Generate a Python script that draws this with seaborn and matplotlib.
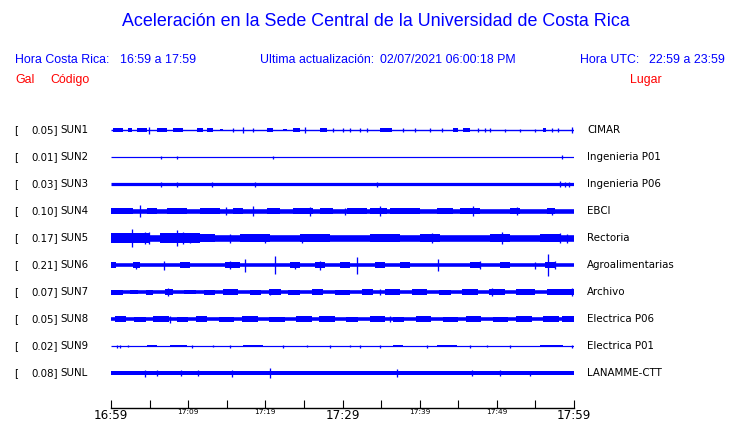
import matplotlib
matplotlib.use("Agg")
import matplotlib.pyplot as plt
import pandas as pd
import seaborn as sns

# ---------------- data ----------------
codes = ["SUN1", "SUN2", "SUN3", "SUN4", "SUN5", "SUN6", "SUN7", "SUN8", "SUN9", "SUNL"]
peak_gal = [0.05, 0.01, 0.03, 0.10, 0.17, 0.21, 0.07, 0.05, 0.02, 0.08]
places = ["CIMAR", "Ingenieria P01", "Ingenieria P06", "EBCI", "Rectoria",
          "Agroalimentarias", "Archivo", "Electrica P06", "Electrica P01", "LANAMME-CTT"]
# background half-amplitude of each trace (trace units)
base_amp = [0.7, 0.6, 1.6, 2.3, 3.3, 1.8, 1.8, 1.8, 0.6, 2.0]

# bursts: (start min, end min, half-amplitude)
sun1_bursts = [(0.26, 1.56, 1.8), (2.2, 2.7, 1.6), (3.4, 4.7, 1.6), (6.0, 7.3, 1.6), (8.0, 9.3, 1.6),
               (11.1, 11.9, 1.8), (12.4, 13.2, 1.6), (14.1, 14.5, 1.4), (20.2, 21.0, 1.6),
               (22.3, 22.8, 1.4), (23.6, 24.5, 1.8), (27.1, 28.0, 1.6), (34.9, 36.4, 1.8),
               (44.3, 45.0, 1.6), (45.6, 46.5, 1.8), (56.0, 56.4, 1.8)]
sun1_spikes = [(4.9, 3.5), (15.8, 2.0), (17.1, 3.0), (18.4, 2.0), (25.1, 3.0), (28.8, 2.0), (30.1, 2.0),
               (31.0, 2.0), (32.3, 2.0), (33.2, 2.0), (37.8, 2.0), (39.4, 2.0), (41.3, 2.0), (42.9, 2.0),
               (47.6, 2.0), (48.5, 2.0), (49.1, 2.0), (51.1, 1.5), (53.0, 1.5), (54.9, 1.5), (57.1, 2.0),
               (57.9, 2.0), (59.7, 3.0)]
sun2_bursts = []
sun2_spikes = [(6.5, 1.5), (8.6, 1.5), (21.0, 1.5), (58.4, 2.0)]
sun3_bursts = []
sun3_spikes = [(6.5, 2.5), (8.6, 2.5), (13.1, 2.5), (18.7, 2.5), (34.5, 2.5), (58.2, 3.0), (58.8, 2.5), (59.4, 2.5)]
sun4_bursts = [(0.0, 2.9, 3.2), (4.7, 6.0, 3.2), (7.3, 9.8, 3.2), (11.5, 14.1, 2.9), (15.8, 17.1, 3.2),
               (20.2, 21.9, 2.9), (23.6, 26.2, 3.2), (27.1, 28.8, 2.9), (30.6, 33.2, 2.9), (33.6, 35.8, 3.2),
               (36.2, 40.0, 2.9), (42.2, 44.3, 2.9), (45.2, 47.8, 2.9), (51.7, 53.0, 3.2), (56.5, 57.5, 2.9)]
sun4_spikes = [(3.8, 6.0), (14.9, 4.0), (18.4, 5.0), (25.8, 4.5), (30.3, 3.5), (34.9, 5.0), (46.9, 5.0),
               (52.6, 4.0), (57.1, 3.5)]
sun5_bursts = [(0.0, 5.1, 4.6), (6.3, 11.5, 4.6), (11.5, 13.5, 4.0), (16.7, 20.6, 4.0), (24.5, 28.4, 4.0),
               (33.6, 37.5, 4.3), (40.0, 42.6, 4.3), (49.1, 51.7, 4.3), (55.6, 58.2, 4.0)]
sun5_spikes = [(2.7, 9.0), (4.4, 6.0), (4.9, 6.0), (8.6, 8.0), (9.3, 6.0), (10.2, 5.0), (15.4, 4.5), (20.0, 4.5),
               (24.8, 4.5), (41.6, 5.0), (50.7, 6.0), (58.2, 5.0), (59.1, 4.5)]
sun6_bursts = [(0.0, 0.6, 2.8), (2.9, 3.8, 2.8), (8.9, 10.2, 2.6), (14.8, 16.7, 3.2), (23.2, 24.5, 2.8),
               (26.4, 27.7, 2.8), (29.7, 31.0, 2.6), (34.2, 35.5, 2.8), (37.5, 38.7, 2.8), (46.5, 47.8, 2.8),
               (50.4, 51.7, 2.8), (56.2, 57.5, 3.2)]
sun6_spikes = [(3.2, 3.5), (6.9, 4.5), (15.4, 4.0), (17.4, 6.5), (21.3, 9.0), (23.8, 3.5), (27.1, 4.5),
               (31.9, 8.5), (42.4, 6.0), (47.8, 4.0), (54.9, 3.5), (56.6, 11.0), (57.5, 4.0)]
sun7_bursts = [(0.0, 1.5, 2.5), (2.5, 3.5, 2.4), (4.5, 5.5, 2.5), (7.0, 8.0, 2.8), (9.5, 11.0, 2.4),
               (12.0, 13.5, 2.5), (14.5, 16.5, 2.6), (18.0, 19.5, 2.5), (20.5, 22.0, 2.6), (23.0, 24.5, 2.5),
               (26.0, 27.5, 2.6), (29.0, 31.0, 2.5), (32.5, 34.0, 2.6), (35.5, 37.5, 2.8), (39.0, 41.0, 2.6),
               (42.5, 44.0, 2.5), (45.5, 47.5, 2.6), (49.0, 51.0, 2.8), (52.5, 55.0, 2.6), (56.5, 60.0, 2.8)]
sun7_spikes = [(7.4, 4.0), (20.6, 3.0), (34.9, 3.0), (49.4, 4.0), (59.7, 4.0)]
sun8_bursts = [(0.5, 2.0, 2.6), (3.0, 4.5, 2.5), (5.5, 7.5, 2.6), (8.5, 10.0, 2.5), (11.0, 12.5, 2.6),
               (14.0, 16.0, 2.5), (17.0, 19.0, 2.6), (20.5, 22.5, 2.5), (24.0, 26.0, 2.6), (27.0, 29.0, 2.8),
               (30.5, 32.0, 2.5), (33.5, 35.5, 2.6), (36.5, 38.0, 2.5), (39.5, 41.5, 2.6), (43.0, 45.0, 2.5),
               (46.0, 48.0, 2.6), (49.5, 51.5, 2.5), (52.5, 54.5, 2.6), (56.0, 58.0, 2.6), (58.5, 60.0, 2.8)]
sun8_spikes = [(7.6, 3.5), (36.2, 3.0)]
sun9_bursts = [(4.7, 6.0, 1.2), (7.6, 9.8, 1.4), (17.1, 19.7, 1.2), (36.5, 37.8, 1.3), (42.2, 44.8, 1.2),
               (55.6, 58.6, 1.2)]
sun9_spikes = [(0.8, 1.5), (1.2, 1.5), (2.2, 1.2), (10.5, 1.5), (13.2, 1.3), (15.4, 1.5), (22.3, 1.5),
               (25.4, 1.3), (28.4, 1.5), (31.0, 1.3), (32.3, 1.5), (34.9, 1.5), (41.0, 1.5), (46.5, 1.5),
               (48.7, 1.3), (51.7, 1.5), (59.7, 1.5)]
sunl_bursts = []
sunl_spikes = [(4.4, 3.5), (6.0, 3.0), (9.1, 3.0), (11.3, 3.0), (15.7, 3.5), (20.6, 5.0), (37.1, 4.0),
               (46.8, 3.0), (50.4, 3.0), (54.3, 2.5)]

tick_minutes = [0, 5, 10, 15, 20, 25, 30, 35, 40, 45, 50, 55, 60]
tick_labels = ["16:59", "", "17:09", "", "17:19", "", "17:29", "", "17:39", "", "17:49", "", "17:59"]
major_labels = ["16:59", "17:29", "17:59"]

title = "Aceleración en la Sede Central de la Universidad de Costa Rica"

all_bursts = [sun1_bursts, sun2_bursts, sun3_bursts, sun4_bursts, sun5_bursts,
              sun6_bursts, sun7_bursts, sun8_bursts, sun9_bursts, sunl_bursts]
all_spikes = [sun1_spikes, sun2_spikes, sun3_spikes, sun4_spikes, sun5_spikes,
              sun6_spikes, sun7_spikes, sun8_spikes, sun9_spikes, sunl_spikes]

# ---------------- figure ----------------
sns.set_theme(style="white")
plt.rcParams["font.family"] = ["DejaVu Sans"]

W, H = 740, 423
BLUE = "#0000ff"
RED = "#ff0000"
fig = plt.figure(figsize=(W / 100, H / 100), dpi=100)
fig.patch.set_facecolor("white")

x0, x1, ytop, ybot = 111, 574, 116, 408
ax = fig.add_axes([x0 / W, (H - ybot) / H, (x1 - x0) / W, (ybot - ytop) / H])
ax.set_xlim(0, 60)
ax.set_ylim(ybot, ytop)
ax.set_facecolor("white")

PX2PT = 72 / 100
row_y = [130 + 27 * i for i in range(len(codes))]

for i, code in enumerate(codes):
    y0 = row_y[i]
    base_df = pd.DataFrame({"t": [0, 60], "y": [y0, y0]})
    sns.lineplot(data=base_df, x="t", y="y", ax=ax, color=BLUE,
                 linewidth=max(2 * base_amp[i], 1.0) * PX2PT, solid_capstyle="butt")
    for (t0, t1, h) in all_bursts[i]:
        ax.fill_between([t0, t1], y0 - h, y0 + h, color=BLUE, linewidth=0)
    if all_spikes[i]:
        ts = [s[0] for s in all_spikes[i]]
        hs = [s[1] for s in all_spikes[i]]
        ax.vlines(ts, [y0 - h for h in hs], [y0 + h for h in hs], color=BLUE, linewidth=1.3 * PX2PT)
    # left and right labels
    fig.text(14 / W, 1 - y0 / H, "[", fontsize=7.4, color="black", va="center", ha="left")
    fig.text(58 / W, 1 - y0 / H, f"{peak_gal[i]:.2f}]", fontsize=7.4, color="black", va="center", ha="right")
    fig.text(60 / W, 1 - y0 / H, code, fontsize=7.4, color="black", va="center", ha="left")
    fig.text(587 / W, 1 - y0 / H, places[i], fontsize=7.4, color="black", va="center", ha="left")

ax.set_xlabel("")
ax.set_ylabel("")
ax.set_yticks([])
for s in ["top", "left", "right"]:
    ax.spines[s].set_visible(False)
ax.spines["bottom"].set_color("black")
ax.spines["bottom"].set_linewidth(1.0)
ax.set_xticks(tick_minutes)
ax.set_xticklabels(tick_labels)
ax.tick_params(axis="x", direction="in", length=6, width=0.8, color="black", pad=0.5,
               bottom=True, labelcolor="black")
for lab in ax.get_xticklabels():
    if lab.get_text() in major_labels:
        lab.set_fontsize(8.6)
    else:
        lab.set_fontsize(5.3)

# ---------------- header text ----------------
hf = ["Liberation Sans", "DejaVu Sans"]
fs = 8.9
fig.text(376 / W, 1 - 22 / H, title, fontsize=12.9, color=BLUE, ha="center", va="center", family=hf)
fig.text(15 / W, 1 - 60 / H, "Hora Costa Rica:", fontsize=fs, color=BLUE, ha="left", va="center", family=hf)
fig.text(120 / W, 1 - 60 / H, "16:59 a 17:59", fontsize=fs, color=BLUE, ha="left", va="center", family=hf)
fig.text(260 / W, 1 - 60 / H, "Ultima actualización:", fontsize=fs, color=BLUE, ha="left", va="center", family=hf)
fig.text(380 / W, 1 - 60 / H, "02/07/2021 06:00:18 PM", fontsize=fs, color=BLUE, ha="left", va="center", family=hf)
fig.text(580 / W, 1 - 60 / H, "Hora UTC:", fontsize=fs, color=BLUE, ha="left", va="center", family=hf)
fig.text(725 / W, 1 - 60 / H, "22:59 a 23:59", fontsize=fs, color=BLUE, ha="right", va="center", family=hf)
fig.text(15 / W, 1 - 80 / H, "Gal", fontsize=fs, color=RED, ha="left", va="center", family=hf)
fig.text(50 / W, 1 - 80 / H, "Código", fontsize=fs, color=RED, ha="left", va="center", family=hf)
fig.text(630 / W, 1 - 80 / H, "Lugar", fontsize=fs, color=RED, ha="left", va="center", family=hf)

fig.savefig("out.png", dpi=100, facecolor="white")
